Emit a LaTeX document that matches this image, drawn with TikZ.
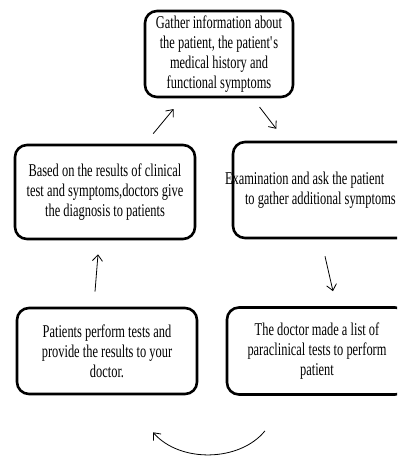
\documentclass[tikz,border=0pt]{standalone}
\usepackage{fontspec}
\setmainfont{Liberation Serif}[FakeStretch=0.69]
\usetikzlibrary{arrows.meta}

\begin{document}
\begin{tikzpicture}[x=1pt, y=-1pt, >={Straight Barb[length=6pt,width=10pt]},
	stage/.style={draw, line width=2.6pt, rounded corners=12pt, align=center,
		inner sep=0pt, minimum width=180pt, font=\fontsize{18}{20}\selectfont},
	link/.style={->, line width=0.8pt}]
	% canvas
	\useasboundingbox (0,0) rectangle (397,456);
	\clip (0,0) rectangle (397,456);
	% stages of the cycle
	\node[stage, minimum width=148pt, minimum height=86pt] (gather) at (219,54)
		{Gather information about\\the patient, the patient\textquotesingle s\\medical history and\\functional symptoms};
	\node[stage, minimum height=96pt, text width=180pt, align=flush left] (exam) at (323,190)
		{\hspace*{-8pt}Examination and ask the patient\\\hspace*{12pt}to gather additional symptoms};
	\node[stage, minimum height=87pt] (doctor) at (317,351)
		{The doctor made a list of\\paraclinical tests to perform\\patient};
	\node[stage, minimum height=86pt] (patients) at (107,351)
		{Patients perform tests and\\provide the results to your\\doctor.};
	\node[stage, minimum height=94pt] (based) at (105,192)
		{Based on the results of clinical\\test and symptoms,doctors give\\the diagnosis  to patients};
	% arrows
	\draw[link, shorten <=13pt, shorten >=14pt] (based) -- (gather);
	\draw[link, shorten <=11pt, shorten >=15pt] (gather) -- (exam);
	\draw[link] ([shift={(2,17)}]exam.south) -- ([shift={(16,-15)}]doctor.north);
	\draw[link] ([shift={(-52,35)}]doctor.south) .. controls +(-25,31) and +(27,31) .. ([shift={(46,37)}]patients.south);
	\draw[link] ([shift={(-12,-15)}]patients.north) -- ([shift={(-7,14)}]based.south);
\end{tikzpicture}
\end{document}
